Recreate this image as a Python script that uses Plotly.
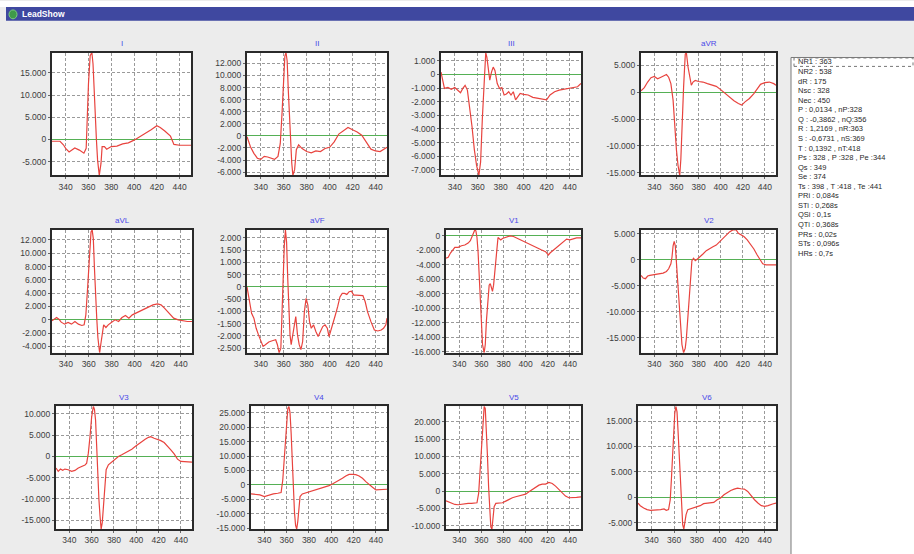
import plotly.graph_objects as go

# ---------------- data ----------------
LEAD_NAMES = ["I", "II", "III", "aVR", "aVL", "aVF", "V1", "V2", "V3", "V4", "V5", "V6"]
X_TICKS = [340, 360, 380, 400, 420, 440]
X_RANGE = [328, 450]

LEAD_I = [(328, -400), (335, -400), (338, -1200), (340, -2000), (343, -2800), (348, -1900), (352, -2400),
          (356, -3100), (358, -2000), (359, 5800), (360, 12500), (361.5, 18900), (363, 19600), (364, 17000),
          (365, 10300), (366, 5800), (367, -100), (368, -4600), (369.5, -8100), (371, -5400), (372, -1600),
          (374, -1600), (376, -2200), (380, -1600), (385, -1500), (390, -1000), (395, -750), (400, -150),
          (405, 600), (410, 1300), (415, 2200), (420, 3100), (423, 2700), (427, 1900), (432, 750),
          (435, -1100), (440, -1300), (450, -1300)]
LEAD_II = [(328, -150), (331, -1800), (334, -2900), (337, -3700), (340, -3900), (343, -3400), (346, -3500),
           (349, -3700), (352, -3900), (355, -3400), (357, -1250), (358.5, 3650), (360, 9100), (361, 13200),
           (362, 13800), (363, 12400), (364, 7500), (365.5, 400), (367, -4500), (368, -6550), (369.5, -5600),
           (371, -2300), (373, -1500), (376, -2100), (380, -2600), (384, -2800), (388, -2500), (392, -2600),
           (396, -2100), (400, -1900), (404, -1000), (408, 300), (412, 900), (416, 1400), (420, 1000),
           (424, 650), (428, 100), (432, -1150), (436, -2200), (440, -2500), (444, -2600), (450, -1900)]
LEAD_III = [(328, 170), (329.5, -430), (331, -1030), (334, -960), (337, -1100), (340, -960), (343, -1150),
            (345, -1340), (347, -1030), (349, -800), (351, -1150), (353, -2350), (355, -3800), (357, -5470),
            (359, -6670), (361, -7400), (362.5, -6430), (364, -3310), (365.5, -190), (367, 1600), (368, 1250),
            (369.5, 290), (370.5, -430), (372, 170), (373.5, 530), (375, 290), (377, -670), (379, -1030),
            (381, -960), (383, -1510), (385, -1440), (387, -1270), (389, -1510), (391, -1270), (393, -1870),
            (395, -1630), (397, -1390), (400, -1460), (404, -1510), (408, -1680), (412, -1750), (416, -1830),
            (420, -1870), (423, -1510), (427, -1270), (431, -1150), (435, -1100), (439, -1030), (443, -960),
            (447, -910), (450, -670)]
LEAD_AVR = [(328, 250), (331, 860), (334, 1900), (337, 2700), (340, 2950), (343, 2500), (346, 2800),
            (349, 3100), (351, 3300), (353, 2800), (355, 1600), (357, -1470), (358.5, -6400), (360, -10700),
            (361.5, -13700), (363, -15500), (364, -12500), (365, -6400), (366.5, 1000), (368, 7100),
            (369, 7400), (370.5, 4700), (372, 2800), (373.5, 1300), (375, 1900), (377, 2200), (380, 2000),
            (384, 1900), (388, 1600), (392, 1400), (396, 1100), (400, 490), (404, -250), (408, -980),
            (412, -1600), (416, -2100), (419, -2400), (422, -1800), (426, -1160), (430, -250), (433, 670),
            (436, 1470), (440, 1800), (444, 1900), (448, 1600), (450, 1300)]
LEAD_AVL = [(328, -150), (330, 150), (332, 350), (334, 100), (336, -350), (339, -650), (342, -400),
            (345, -650), (348, -250), (351, -650), (354, -850), (356, -750), (357.5, 750), (359, 4700),
            (360.5, 9200), (362, 13200), (363, 13500), (364, 12200), (365, 7700), (366, 3200), (367, 250),
            (368, -2700), (369.5, -4950), (370.5, -3700), (371.5, -2200), (373, -750), (375, -1150),
            (377, -750), (380, -350), (383, 0), (386, -250), (389, 350), (392, 650), (395, 250), (398, 750),
            (401, 1000), (404, 1250), (408, 1500), (412, 1850), (416, 2250), (420, 2400), (423, 2250),
            (426, 1750), (430, 1000), (434, 250), (438, 0), (442, -150), (446, -250), (450, -250)]
LEAD_AVF = [(328, 0), (329, -270), (330.5, -740), (332, -1080), (334, -1280), (336, -1690), (338, -1960),
            (340, -2230), (342, -2430), (344, -2360), (347, -2250), (350, -2200), (353, -2160), (354.5, -2360),
            (356, -2690), (357.5, -2500), (358.5, -1010), (359.5, 340), (360.5, 1690), (361.5, 2320),
            (362.5, 1820), (363.5, 340), (364.5, -1280), (365.5, -1960), (366.5, -2360), (368, -1960),
            (369.5, -1550), (370.5, -1210), (372, -1960), (373.5, -2360), (375, -2560), (376.5, -2230),
            (378, -1010), (379.5, -470), (381, -740), (382.5, -1420), (384, -1690), (386, -1550), (388, -1820),
            (390, -2030), (392, -1820), (394, -1620), (396, -1550), (398, -1690), (399.5, -2030), (401, -1760),
            (403, -1420), (405, -1150), (407, -810), (409, -410), (411, -270), (413, -270), (415, -310),
            (417, -200), (419, -180), (421, -340), (423, -340), (426, -360), (429, -360), (431, -610),
            (433, -1010), (436, -1420), (439, -1760), (442, -1800), (445, -1760), (447, -1690), (449, -1550),
            (450, -1280)]
LEAD_V1 = [(328, -3090), (330, -2950), (332, -2370), (334, -1910), (336, -1590), (339, -1590), (342, -1360),
           (345, -1270), (348, -1000), (350, -680), (352, 0), (353, 450), (354, 820), (355, 680), (356, -230),
           (357, -2270), (358, -5900), (359, -9550), (360, -12700), (361, -15000), (362.5, -16140),
           (363.5, -15000), (364.5, -11800), (365.5, -9100), (367, -6800), (368, -6600), (369, -7300),
           (370, -7650), (371, -6800), (372, -5000), (373, -2730), (374, -900), (375, -230), (376, -360),
           (377.5, -550), (379, -360), (381, -230), (383, -90), (386, 0), (389, -90), (392, -320), (395, -450),
           (398, -680), (401, -910), (404, -1140), (407, -1360), (410, -1590), (414, -1910), (418, -2180),
           (420.5, -2640), (422, -2370), (425, -1960), (428, -1590), (431, -1140), (434, -820), (437, -450),
           (440, -550), (443, -450), (446, -270), (450, -270)]
LEAD_V2 = [(328, -2980), (330, -3490), (332, -3620), (334, -3110), (336, -2980), (339, -2860), (342, -2790),
           (345, -2670), (348, -2540), (351, -2220), (353, -1710), (355, -760), (356, 510), (357, 2730),
           (358, 3560), (359, 2730), (360, -440), (361, -4250), (362, -8700), (363, -11900), (364, -14400),
           (365, -16300), (366.5, -17900), (368, -17000), (369, -15100), (370, -11900), (371, -8700),
           (372, -4900), (373, -1710), (374, -130), (375.5, 320), (377, -130), (379, 190), (381, 510),
           (384, 1140), (387, 1780), (390, 2220), (393, 2540), (396, 2860), (399, 3490), (402, 4130),
           (405, 4760), (408, 5400), (411, 5780), (414, 5780), (416, 5140), (418, 4950), (421, 4510),
           (424, 3870), (427, 3050), (430, 2100), (433, 950), (436, -130), (438, -760), (441, -950),
           (445, -950), (450, -950)]
LEAD_V3 = [(328, -2720), (330, -3500), (332, -2960), (334, -3270), (336, -2960), (339, -3110), (342, -3500),
           (345, -3270), (348, -2720), (351, -2330), (354, -2020), (355.5, -1560), (357, 780), (358.5, 4670),
           (360, 9340), (361.5, 11800), (362.5, 11050), (363.5, 8560), (364.5, 1560), (365.5, -4670),
           (366.5, -10100), (367.5, -14000), (368.5, -17100), (369.5, -15560), (370.5, -11670),
           (371.5, -7000), (373, -3110), (375, -1950), (378, -1320), (381, -780), (384, 0), (387, 390),
           (390, 780), (393, 1170), (396, 1710), (399, 2330), (402, 2960), (405, 3500), (408, 4050),
           (411, 4510), (413, 4670), (416, 4280), (419, 4050), (422, 3730), (425, 3270), (428, 2490),
           (431, 1560), (434, 620), (437, -620), (440, -1170), (444, -1170), (450, -1320)]
LEAD_V4 = [(328, -3100), (332, -3210), (336, -3440), (340, -4010), (344, -3440), (348, -3100), (352, -2870),
           (355, -2640), (356.5, 1720), (358, 9750), (359.5, 20100), (361, 26400), (362, 27200), (363, 25000),
           (364, 18000), (365, 7000), (366, -2500), (367, -9500), (368, -14000), (369, -15300), (370, -12500),
           (371, -7000), (372, -4010), (374, -3100), (376, -2870), (378, -2410), (380, -2290), (383, -1950),
           (386, -1490), (389, -1150), (392, -920), (395, -570), (398, -230), (401, 340), (404, 920),
           (407, 1490), (410, 2290), (413, 3100), (416, 3670), (419, 3670), (422, 3560), (425, 3100),
           (428, 2290), (431, 1150), (434, 0), (437, -800), (440, -1720), (444, -1720), (450, -1490)]
LEAD_V5 = [(328, -2790), (330, -3080), (333, -3560), (336, -3850), (339, -3940), (342, -3750), (345, -3750),
           (348, -3560), (351, -3560), (354, -3560), (356, -3370), (357.5, -670), (359, 7020), (360.5, 16640),
           (361.5, 22400), (362.5, 24500), (363.5, 23800), (364.5, 18570), (365.5, 9900), (366.5, 1250),
           (367.5, -5480), (368.5, -10300), (369.5, -11000), (370.5, -7400), (371.5, -4520), (373, -3560),
           (376, -3560), (379, -3370), (382, -2890), (385, -2310), (388, -1920), (391, -1640), (394, -1440),
           (397, -1150), (400, -870), (403, -190), (406, 480), (409, 1250), (412, 1730), (415, 2020),
           (418, 2020), (421, 2500), (424, 2210), (427, 1440), (430, 480), (433, -670), (436, -1440),
           (439, -1920), (442, -1920), (446, -1830), (450, -1640)]
LEAD_V6 = [(328, -1110), (330, -1630), (333, -2090), (336, -2410), (339, -2540), (342, -2540), (345, -2410),
           (348, -2410), (351, -2280), (353, -2540), (355, -2410), (356.5, -460), (357.5, 3460), (358.5, 8350),
           (359.5, 12600), (360.5, 16500), (361.5, 17900), (362.5, 16800), (363.5, 12600), (364.5, 7370),
           (365.5, 2150), (366.5, -2410), (367.5, -5350), (368.5, -6250), (369.5, -5020), (370.5, -3390),
           (372, -2410), (374, -2280), (377, -2090), (380, -1890), (383, -1630), (386, -1240), (389, -1110),
           (392, -1110), (395, -980), (398, -460), (401, -130), (404, 520), (407, 980), (410, 1370),
           (413, 1630), (416, 1830), (419, 1700), (422, 1630), (425, 1170), (428, 330), (431, -460),
           (434, -1110), (437, -1630), (440, -1760), (443, -1630), (447, -1300), (450, -1110)]

LEAD_DATA = [LEAD_I, LEAD_II, LEAD_III, LEAD_AVR, LEAD_AVL, LEAD_AVF,
             LEAD_V1, LEAD_V2, LEAD_V3, LEAD_V4, LEAD_V5, LEAD_V6]

Y_TICKS = [
    [-5000, 0, 5000, 10000, 15000],
    [-6000, -4000, -2000, 0, 2000, 4000, 6000, 8000, 10000, 12000],
    [-7000, -6000, -5000, -4000, -3000, -2000, -1000, 0, 1000],
    [-15000, -10000, -5000, 0, 5000],
    [-4000, -2000, 0, 2000, 4000, 6000, 8000, 10000, 12000],
    [-2500, -2000, -1500, -1000, -500, 0, 500, 1000, 1500, 2000],
    [-16000, -14000, -12000, -10000, -8000, -6000, -4000, -2000, 0],
    [-15000, -10000, -5000, 0, 5000],
    [-15000, -10000, -5000, 0, 5000, 10000],
    [-15000, -10000, -5000, 0, 5000, 10000, 15000, 20000, 25000],
    [-10000, -5000, 0, 5000, 10000, 15000, 20000],
    [-5000, 0, 5000, 10000, 15000],
]

INFO_LINES = [
    "NR1 : 363", "NR2 : 538", "dR : 175", "Nsc : 328", "Nec : 450",
    "P : 0,0134 , nP:328", "Q : -0,3862 , nQ:356", "R : 1,2169 , nR:363",
    "S : -0,6731 , nS:369", "T : 0,1392 , nT:418", "Ps : 328 , P :328 , Pe :344",
    "Qs : 349", "Se : 374", "Ts : 398 , T :418 , Te :441",
    "PRi : 0,084s", "STi : 0,268s", "QSi : 0,1s", "QTi : 0,368s",
    "PRs : 0,02s", "STs : 0,096s", "HRs : 0,7s",
]

# ---------------- layout (pixel boxes) ----------------
W, H = 914, 554
BOXES = [  # x0, x1, y0(top), y1(bottom) in pixels
    (52, 191, 52, 176), (247, 387, 52, 176), (441, 581, 52, 176), (641, 776, 52, 176),
    (52, 192, 231, 355), (247, 387, 231, 355), (446, 581, 231, 355), (641, 776, 231, 355),
    (56, 192, 409, 533), (251, 387, 409, 533), (446, 581, 409, 533), (638, 776, 409, 533),
]

FONT = "Liberation Sans, Arial, sans-serif"


def px_x(v):
    return v / W


def px_y(v):
    return 1 - v / H


def label(v):
    return f"{v:,}".replace(",", ".")


fig = go.Figure()
layout = {}
annotations = []
shapes = []

for i, name in enumerate(LEAD_NAMES):
    n = i + 1
    xs = [p[0] for p in LEAD_DATA[i]]
    ys = [p[1] for p in LEAD_DATA[i]]
    xa = "x" if n == 1 else f"x{n}"
    ya = "y" if n == 1 else f"y{n}"
    fig.add_trace(go.Scatter(x=xs, y=ys, xaxis=xa, yaxis=ya, mode="lines",
                             line=dict(color="#e8433e", width=1.2), showlegend=False,
                             hoverinfo="skip"))
    x0, x1, t, b = BOXES[i]
    ymin, ymax = min(ys), max(ys)
    common = dict(
        showgrid=True, gridcolor="#9a9a9a", griddash="3px,2px", gridwidth=1,
        showline=True, mirror=True, linecolor="#2a2a2a", linewidth=2,
        ticks="outside", ticklen=2, tickcolor="#666",
        tickfont=dict(family=FONT, size=8.5, color="#3c3c3c"),
        fixedrange=True,
    )
    layout[f"xaxis{'' if n == 1 else n}"] = dict(
        domain=[px_x(x0), px_x(x1)], anchor=ya, range=X_RANGE,
        tickvals=X_TICKS, ticktext=[str(v) for v in X_TICKS], zeroline=False, **common,
    )
    layout[f"yaxis{'' if n == 1 else n}"] = dict(
        domain=[px_y(b), px_y(t)], anchor=xa, range=[ymin, ymax],
        tickvals=Y_TICKS[i], ticktext=[label(v) for v in Y_TICKS[i]],
        zeroline=True, zerolinecolor="#55b055", zerolinewidth=1.4, **common,
    )
    annotations.append(dict(text=name, xref=f"{xa} domain", x=0.5, yref="paper", y=px_y(t - 9),
                            showarrow=False, xanchor="center", yanchor="middle",
                            font=dict(family=FONT, size=8, color="#4848e8")))

# window chrome
shapes.append(dict(type="rect", xref="paper", yref="paper", x0=0, x1=1, y0=px_y(6), y1=1,
                   fillcolor="white", line=dict(width=0), layer="below"))
shapes.append(dict(type="rect", xref="paper", yref="paper", x0=px_x(6), x1=1, y0=px_y(20), y1=px_y(6),
                   fillcolor="#3f48a0", line=dict(width=0), layer="below"))
shapes.append(dict(type="circle", xref="paper", yref="paper", x0=px_x(9), x1=px_x(17), y0=px_y(18),
                   y1=px_y(9), fillcolor="#3f9a4a", line=dict(color="#7ccf7c", width=1), layer="above"))
annotations.append(dict(text="<b>LeadShow</b>", xref="paper", yref="paper", x=px_x(20), y=px_y(13),
                        xanchor="left", yanchor="middle", showarrow=False,
                        font=dict(family=FONT, size=8.5, color="white")))

# info panel
shapes.append(dict(type="rect", xref="paper", yref="paper", x0=px_x(791), x1=1.01, y0=-0.01, y1=px_y(57),
                   fillcolor="white", line=dict(color="#7a7a7a", width=1), layer="below"))
shapes.append(dict(type="rect", xref="paper", yref="paper", x0=px_x(794), x1=px_x(913), y0=px_y(66),
                   y1=px_y(57.5), fillcolor="rgba(0,0,0,0)", line=dict(color="#777", width=1, dash="dot"),
                   layer="above"))
for k, line in enumerate(INFO_LINES):
    annotations.append(dict(text=line, xref="paper", yref="paper", x=px_x(796), y=px_y(61.5 + k * 9.65),
                            xanchor="left", yanchor="middle", showarrow=False,
                            font=dict(family=FONT, size=7.5, color="#2a2a2a")))

fig.update_layout(
    width=W, height=H, margin=dict(l=0, r=0, t=0, b=0),
    paper_bgcolor="#ececec", plot_bgcolor="white",
    annotations=annotations, shapes=shapes, showlegend=False,
    **layout,
)

fig.write_html("out.html", config={"displayModeBar": False},
               post_script="document.body.style.margin='0';document.body.style.overflow='hidden';")
